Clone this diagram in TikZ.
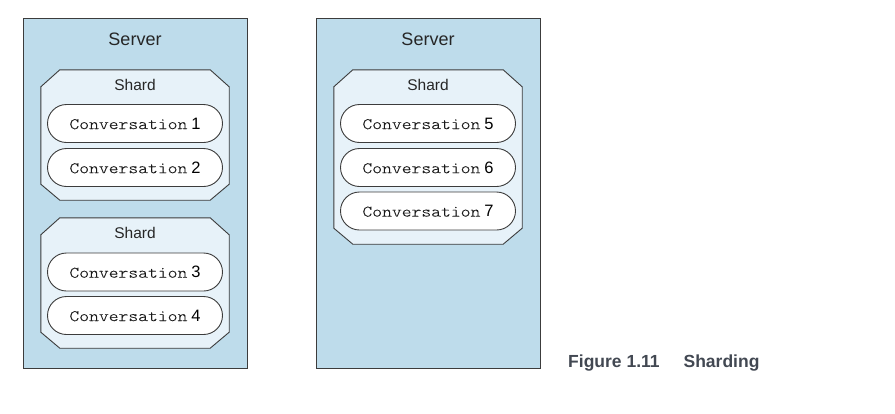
\documentclass[tikz,border=0pt]{standalone}
\usepackage{fontspec}
\setmainfont{Liberation Sans}
\setsansfont{Liberation Sans}
\newfontfamily\convfont[FakeStretch=1.17,FakeBold=0.12]{Latin Modern Mono Light}
\definecolor{serverfill}{RGB}{190,220,235}
\definecolor{shardfill}{RGB}{231,242,249}
\definecolor{edge}{RGB}{60,60,60}
\definecolor{captioncol}{RGB}{66,72,82}
\tikzset{
  serverbox/.style={draw=edge, line width=0.9pt, fill=serverfill, minimum width=224pt, minimum height=350pt, inner sep=0pt},
  shardarea/.style={draw=none, minimum width=188pt, inner sep=0pt},
  shardline/.style={draw=edge, line width=0.9pt, fill=shardfill},
  convbox/.style={draw=edge, line width=0.9pt, fill=white, rounded corners=19pt, minimum width=175pt, minimum height=38pt, inner sep=0pt},
  serverlabel/.style={font=\fontsize{18}{20}\selectfont, text=black!85},
  shardlabel/.style={font=\fontsize{15.5}{17}\selectfont, text=black!85},
}
\newcommand{\conv}[1]{{\convfont\fontsize{16}{18}\selectfont\color{black!90}Conversation}\hspace{4pt}{\sffamily\fontsize{16.5}{18}\selectfont #1}}
\newcommand{\chamfer}[1]{%
  \path[shardline] ([xshift=19pt]#1.north west) -- ([xshift=-19pt]#1.north east)
    -- ([yshift=-17pt]#1.north east) -- ([yshift=16pt]#1.south east)
    -- ([xshift=-19pt]#1.south east) -- ([xshift=19pt]#1.south west)
    -- ([yshift=16pt]#1.south west) -- ([yshift=-17pt]#1.north west) -- cycle;}
\begin{document}
\begin{tikzpicture}[x=1pt,y=-1pt]
\useasboundingbox (0,0) rectangle (895,413);
% servers
\node[serverbox] (srv1) at (135,193) {};
\node[serverbox] (srv2) at (428,193) {};
\node[serverlabel] (srv1l) at (135,39) {Server};
\node[serverlabel] (srv2l) at (428,39) {Server};
% shards
\node[shardarea, minimum height=130pt] (sh1) at (135,135) {};
\node[shardarea, minimum height=130pt] (sh2) at (135,283) {};
\node[shardarea, minimum height=174pt] (sh3) at (428,157) {};
\chamfer{sh1}
\chamfer{sh2}
\chamfer{sh3}
\node[shardlabel] (sh1l) at (135,85) {Shard};
\node[shardlabel] (sh2l) at (135,233) {Shard};
\node[shardlabel] (sh3l) at (428,85) {Shard};
% conversations
\node[convbox] (c1) at (135,123.5) {\conv{1}};
\node[convbox] (c2) at (135,167.5) {\conv{2}};
\node[convbox] (c3) at (135,272) {\conv{3}};
\node[convbox] (c4) at (135,315.5) {\conv{4}};
\node[convbox] (c5) at (428,123.5) {\conv{5}};
\node[convbox] (c6) at (428,167.5) {\conv{6}};
\node[convbox] (c7) at (428,211) {\conv{7}};
% caption
\node[anchor=base west, inner sep=0pt, text=captioncol, font=\bfseries\fontsize{17.5}{19}\selectfont] (cap) at (568,367) {Figure 1.11\hspace{24pt}Sharding};
\end{tikzpicture}
\end{document}
